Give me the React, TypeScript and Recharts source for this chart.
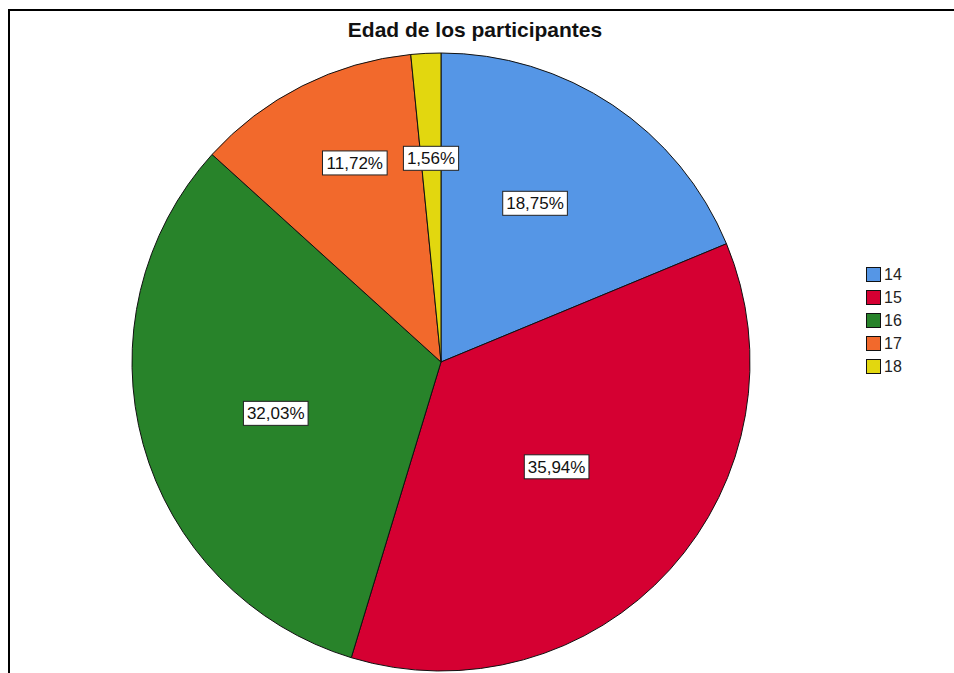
import React from 'react';
import { PieChart, Pie, Cell, Legend } from 'recharts';

const AGES = ['14', '15', '16', '17', '18'];
const PERCENTS = [18.75, 35.94, 32.03, 11.72, 1.56];
const COLORS = ['#5596E6', '#D50032', '#28832A', '#F2692C', '#E2D70F'];

// SPSS places each label a little off the slice mid line
const LABEL_RADIUS = [0.597, 0.505, 0.56, 0.702, 0.66];
const LABEL_ANGLE_SHIFT = [3.1, 0, 1.8, -3.3, 0];

const FONT = 'Arial, "Liberation Sans", sans-serif';
const RAD = Math.PI / 180;

const data = AGES.map((age, i) => ({ name: age, value: PERCENTS[i] }));

const charWidth = (ch: string) => {
  if (ch === ',') return 0.278;
  if (ch === '%') return 0.889;
  return 0.556;
};

const renderLabel = (props: any) => {
  const { cx, cy, midAngle, outerRadius, index, value } = props;
  const r = outerRadius * LABEL_RADIUS[index];
  const a = midAngle + LABEL_ANGLE_SHIFT[index];
  const x = cx + r * Math.cos(-a * RAD);
  const y = cy + r * Math.sin(-a * RAD);
  const text = `${value.toFixed(2).replace('.', ',')}%`;
  const fontSize = 17;
  const w = text.split('').reduce((s, c) => s + charWidth(c), 0) * fontSize + 7;
  const h = 24;
  return (
    <g>
      <rect x={x - w / 2} y={y - h / 2} width={w} height={h} fill="#fff" stroke="#222" strokeWidth={1} />
      <text x={x} y={y + 6} textAnchor="middle" fontSize={fontSize} fontFamily={FONT} fill="#111">
        {text}
      </text>
    </g>
  );
};

const renderLegend = () => (
  <div style={{ fontFamily: FONT }}>
    {AGES.map((age, i) => (
      <div key={age} style={{ display: 'flex', alignItems: 'center', height: 23 }}>
        <span
          style={{
            display: 'inline-block',
            width: 15,
            height: 15,
            boxSizing: 'border-box',
            border: '1px solid #111',
            background: COLORS[i],
          }}
        />
        <span style={{ marginLeft: 3, fontSize: 16, color: '#222' }}>{age}</span>
      </div>
    ))}
  </div>
);

export default function App() {
  return (
    <div style={{ position: 'absolute', left: 0, top: 0, width: 954, height: 673, background: '#fff', overflow: 'hidden' }}>
      <div
        style={{
          position: 'absolute',
          left: 8,
          top: 9,
          width: 950,
          height: 670,
          borderTop: '2px solid #000',
          borderLeft: '2px solid #000',
        }}
      />
      <div
        style={{
          position: 'absolute',
          left: 0,
          top: 18,
          width: 950,
          textAlign: 'center',
          fontFamily: FONT,
          fontWeight: 'bold',
          fontSize: 21,
          lineHeight: '24px',
          color: '#111',
        }}
      >
        Edad de los participantes
      </div>
      <PieChart width={954} height={673} margin={{ top: 0, right: 0, bottom: 0, left: 0 }}>
        <Pie
          data={data}
          dataKey="value"
          nameKey="name"
          cx={441}
          cy={362}
          outerRadius={309}
          startAngle={90}
          endAngle={-270}
          stroke="#111"
          strokeWidth={1}
          label={renderLabel}
          labelLine={false}
          isAnimationActive={false}
        >
          {data.map((d, i) => (
            <Cell key={d.name} fill={COLORS[i]} />
          ))}
        </Pie>
        <Legend content={renderLegend} wrapperStyle={{ left: 866, top: 263, width: 60, right: 'auto', bottom: 'auto' }} />
      </PieChart>
    </div>
  );
}
